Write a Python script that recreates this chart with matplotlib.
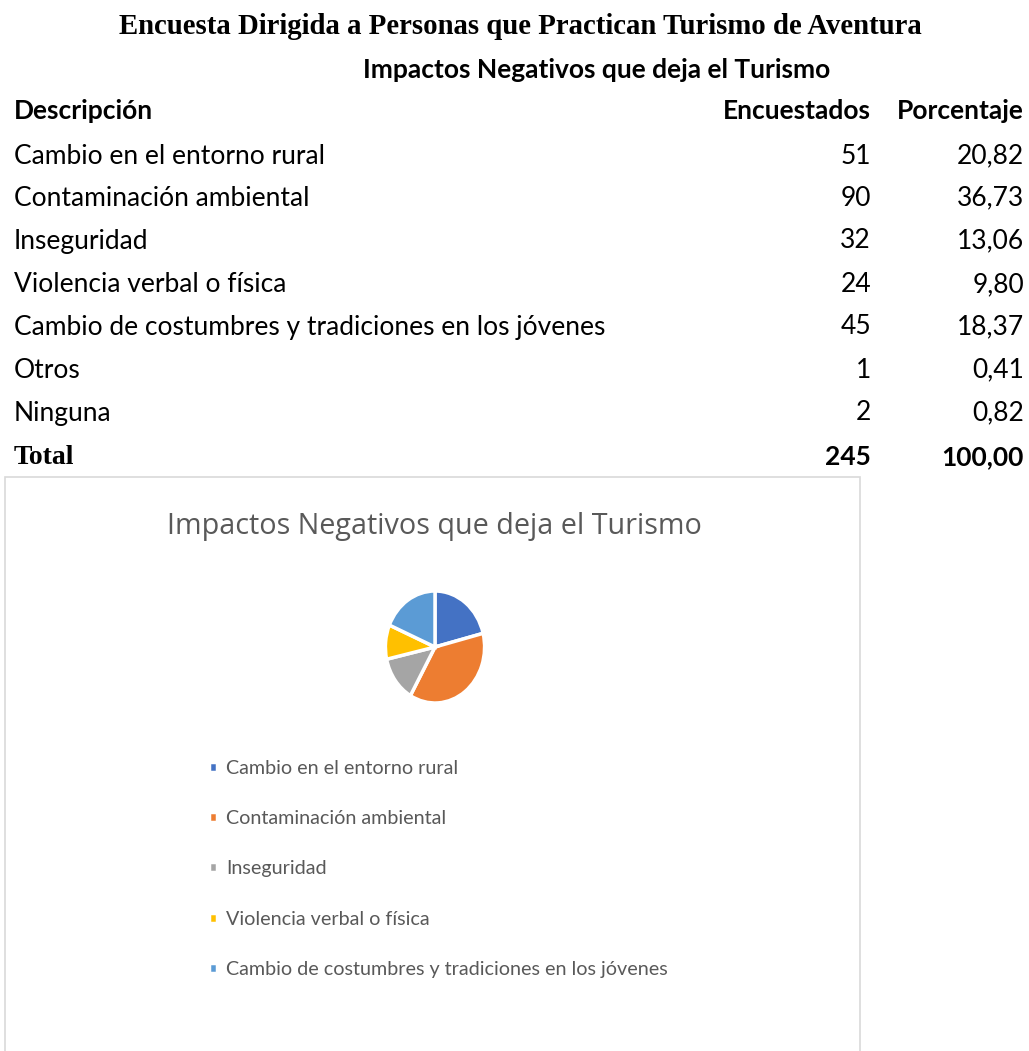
import matplotlib.pyplot as plt
from matplotlib.patches import Rectangle

W, H = 1029, 1051

descripcion = ["Cambio en el entorno rural", "Contaminación ambiental", "Inseguridad",
               "Violencia verbal o física", "Cambio de costumbres y tradiciones en los jóvenes",
               "Otros", "Ninguna"]
encuestados = [51, 90, 32, 24, 45, 1, 2]
porcentaje = ["20,82", "36,73", "13,06", "9,80", "18,37", "0,41", "0,82"]
total_enc = 245
total_pct = "100,00"

# el grafico solo muestra las 5 primeras categorias
pie_labels = descripcion[:5]
pie_values = encuestados[:5]
colores = ["#4472C4", "#ED7D31", "#A5A5A5", "#FFC000", "#5B9BD5"]

fig = plt.figure(figsize=(W / 100, H / 100), dpi=100)

def px(x, y):
    return x / W, 1 - y / H

tfont = "Lato"
tsize = 19

# titulos
fig.text(*px(520, 27), "Encuesta Dirigida a Personas que Practican Turismo de Aventura",
         family="Liberation Serif", weight="bold", fontsize=20.7, ha="center", va="center")
fig.text(*px(597, 70), "Impactos Negativos que deja el Turismo",
         family=tfont, weight="bold", fontsize=tsize, ha="center", va="center")

# encabezado de la tabla
fig.text(*px(14, 111), "Descripción", family=tfont, weight="bold", fontsize=tsize, va="center")
fig.text(*px(871, 111), "Encuestados", family=tfont, weight="bold", fontsize=tsize, va="center", ha="right")
fig.text(*px(1024, 111), "Porcentaje", family=tfont, weight="bold", fontsize=tsize, va="center", ha="right")

row_y = [156, 198, 241, 285, 327, 370, 413]
for y, d, e, p in zip(row_y, descripcion, encuestados, porcentaje):
    fig.text(*px(14, y), d, family=tfont, fontsize=tsize, va="center")
    fig.text(*px(871, y), str(e), family=tfont, fontsize=tsize, va="center", ha="right")
    fig.text(*px(1024, y), p, family=tfont, fontsize=tsize, va="center", ha="right")

fig.text(*px(14, 457), "Total", family="Liberation Serif", weight="bold", fontsize=20, va="center")
fig.text(*px(871, 457), str(total_enc), family=tfont, weight="bold", fontsize=tsize, va="center", ha="right")
fig.text(*px(1024, 457), total_pct, family=tfont, weight="bold", fontsize=tsize, va="center", ha="right")

# recuadro del grafico
fig.patches.append(Rectangle(px(5, 1060), 855 / W, (1060 - 477) / H, transform=fig.transFigure,
                             fill=False, edgecolor="#D9D9D9", linewidth=1.2))

fig.text(*px(434, 526), "Impactos Negativos que deja el Turismo", family="Open Sans",
         fontsize=20.7, color="#595959", ha="center", va="center")

# pastel (algo mas alto que ancho, como en la imagen)
rx, ry = 62, 70
cx, cy = 435, 647
ax = fig.add_axes([(cx - rx) / W, 1 - (cy + ry) / H, 2 * rx / W, 2 * ry / H])
wedges, _ = ax.pie(pie_values, colors=colores, startangle=90, counterclock=False,
                   wedgeprops=dict(edgecolor="white", linewidth=2.5))
ax.set_aspect("auto")

leg = fig.legend(wedges, pie_labels, loc="upper left", bbox_to_anchor=px(191, 742),
                 frameon=False, handlelength=0.4, handleheight=0.4,
                 handletextpad=0.5, labelspacing=1.69, prop=dict(family="Lato", size=14.2))
for t in leg.get_texts():
    t.set_color("#595959")

fig.savefig("out.png", dpi=100)
